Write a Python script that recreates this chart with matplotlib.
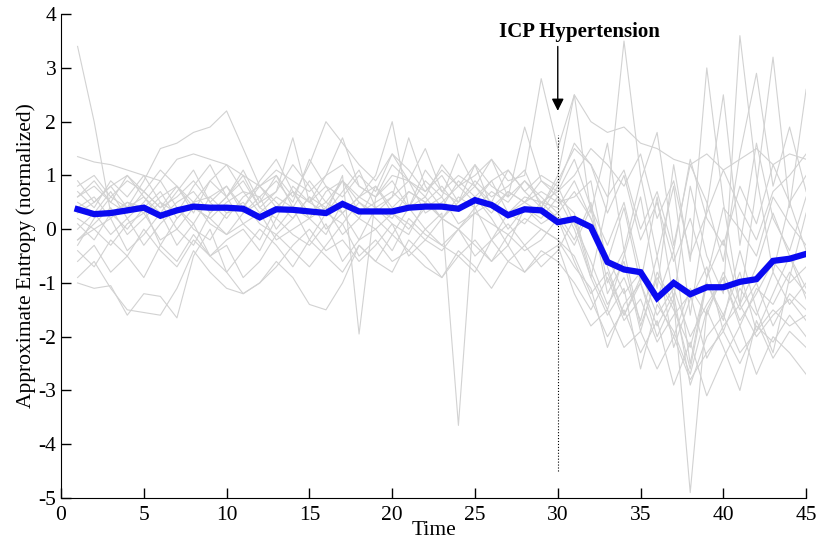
import matplotlib
matplotlib.use("Agg")
import matplotlib.pyplot as plt
import numpy as np

plt.rcParams['font.family'] = ['Liberation Serif', 'DejaVu Serif']
plt.rcParams['axes.unicode_minus'] = False

time = list(range(1, 46))

mean_entropy = [0.37, 0.28, 0.30, 0.35, 0.40, 0.25, 0.35, 0.42, 0.40, 0.40,
                0.38, 0.22, 0.37, 0.36, 0.33, 0.30, 0.47, 0.33, 0.33, 0.33,
                0.40, 0.42, 0.42, 0.38, 0.54, 0.45, 0.26, 0.37, 0.35, 0.13,
                0.19, 0.04, -0.61, -0.75, -0.80, -1.28, -1.00, -1.21, -1.08, -1.08,
                -0.98, -0.93, -0.59, -0.55, -0.46]

traces = [
    [3.4, 2.0, 0.3, 0.5, 0.4, 0.7, 0.2, 0.5, 0.6, 0.3, 0.4, 0.8, 0.5, 0.2, 0.6, 0.4, 0.9, 0.3, 0.5, 0.7, 0.4, 0.6, 0.2, 0.5, 0.8, 0.4, 0.3, 0.6, 0.5, 0.4, 0.9, 0.2, -0.5, -1.2, -0.8, -1.6, -1.1, -2.0, -1.4, -0.9, -1.7, -1.2, -0.6, -1.0, -0.7],
    [0.1, -0.2, 0.3, 0.0, 0.4, -0.3, 0.2, 0.5, 0.1, -0.1, 0.3, 0.6, 0.0, 0.4, -0.2, 0.3, 0.1, 0.5, 0.2, -0.1, 0.4, 0.0, 0.3, -3.65, 0.6, 0.2, -0.3, 0.4, 0.1, 0.3, -0.2, 0.5, -1.0, -0.4, -1.8, -0.9, -1.5, -2.2, -1.0, -1.6, -0.8, -1.9, -1.2, -0.5, -1.3],
    [0.6, 0.9, 0.5, 1.0, 0.7, 0.4, 0.8, 0.3, 0.9, 0.6, 1.1, 0.5, 0.7, 1.2, 0.8, 0.3, 1.0, -1.95, 0.6, 0.9, 0.4, 1.1, 0.7, 0.5, 1.2, 0.8, 0.6, 0.9, 0.5, 0.7, 1.3, 0.4, -0.3, 0.5, -0.8, -1.3, -0.4, -2.5, -0.9, -0.2, -1.4, -0.7, 0.3, -0.5, -1.1],
    [-0.3, 0.2, 0.6, 0.4, 0.9, 1.5, 1.6, 1.8, 1.9, 2.2, 1.5, 0.8, 1.0, 0.6, 1.2, 2.0, 1.6, 1.2, 0.9, 1.4, 1.1, 0.7, 1.0, 0.5, 0.9, 0.6, 0.8, 1.1, 0.4, 0.9, 1.5, 1.2, 0.3, 1.0, -0.2, 0.5, -0.6, 0.2, -0.9, 0.4, 0.0, -0.5, 0.6, 0.1, -0.3],
    [1.35, 1.25, 1.2, 1.1, 1.0, 0.9, 1.3, 1.4, 1.3, 1.2, 1.0, 0.8, 1.1, 0.9, 0.7, 1.0, 1.2, 0.8, 0.6, 1.0, 0.9, 0.7, 1.1, 0.8, 1.0, 1.3, 0.9, 1.0, 2.8, 1.5, 2.5, 2.0, 1.8, 1.9, 1.6, 1.5, 1.3, 1.2, 1.4, 1.1, 1.3, 1.5, 1.2, 1.4, 1.3],
    [-1.0, -1.1, -1.05, -1.6, -1.2, -1.25, -1.65, -0.5, 0.0, -0.8, -1.2, -1.0, -0.6, -0.9, -1.4, -1.5, -1.0, -0.3, -0.6, -0.8, -0.2, -0.5, -0.9, -0.4, -0.7, -1.1, -0.6, -0.8, -0.5, -0.3, -1.2, -1.8, -1.5, -2.2, -1.9, -2.6, -2.0, -2.8, -2.3, -1.9, -2.5, -1.8, -2.1, -1.6, -2.0],
    [-0.9, -0.6, -1.1, -1.5, -1.55, -1.6, -1.1, -0.4, -0.8, -1.1, -1.2, -1.0, -0.7, -0.3, 0.0, -0.4, -0.2, -0.6, -0.3, 0.1, -0.5, -0.2, -0.4, 0.0, -0.3, -0.6, -0.1, -0.4, -0.2, 0.2, -0.6, -1.3, -2.0, -1.5, -2.3, -1.7, -2.9, -2.1, -3.1, -2.4, -1.8, -2.7, -2.0, -2.3, -2.7],
    [0.5, 0.3, 0.7, 0.2, 0.5, 0.9, 0.4, 0.1, 0.6, 0.8, 0.3, 0.5, 1.0, 0.4, 0.2, 0.7, 0.9, 0.5, 0.3, 0.6, 1.7, 0.8, 0.4, 0.9, 0.6, 0.3, 0.7, 0.5, 0.9, 0.6, 0.0, -0.9, 0.5, 3.5, 1.0, -0.5, 0.8, -1.6, 0.4, 2.5, -0.3, 1.6, 0.2, -0.4, 0.6],
    [0.2, 0.0, -0.3, 0.1, 0.3, -0.2, 0.0, 0.4, 0.2, -0.1, 0.1, 0.3, -0.2, 0.0, 0.2, 0.4, -0.1, 0.2, 0.0, 0.3, 0.1, -0.2, 0.2, 0.0, 0.3, 0.1, -0.1, 0.2, 0.0, -0.2, -0.5, -1.2, -0.8, -1.6, -1.0, -2.0, -1.3, -4.9, -1.5, -0.9, -1.8, -1.1, -1.4, -0.8, -1.2],
    [0.4, 0.6, 0.2, 0.5, 0.3, 0.6, 0.8, 0.4, 0.2, 0.5, 0.7, 0.3, 0.6, 0.4, 0.9, 0.5, 0.3, 0.6, 0.8, 0.4, 0.7, 0.5, 0.2, 0.6, 0.4, 0.7, 0.5, 0.9, 0.6, 0.3, 0.7, 0.2, -0.6, 0.4, -1.0, 0.6, -1.3, 0.8, -0.5, -1.2, 3.6, 1.0, -0.8, 0.5, -0.4],
    [-0.2, 0.1, 0.4, -0.1, 0.2, 0.5, 0.0, -0.3, 0.3, 0.6, 0.1, -0.2, 0.4, 0.7, 0.2, -0.1, 0.5, 0.2, 0.8, 0.3, 0.0, 0.4, 0.6, 0.1, 0.3, 0.5, 0.0, 0.4, 0.2, 0.6, 0.3, -0.8, -1.5, -0.5, 0.6, -1.1, 1.2, -0.6, 3.0, 0.5, -1.4, 0.8, 3.2, 0.4, 2.6],
    [0.9, 0.5, 0.8, 1.0, 0.6, 0.3, 0.7, 1.1, 0.5, 0.8, 0.4, 0.9, 1.3, 0.7, 0.5, 1.0, 1.7, 0.8, 0.6, 1.2, 0.9, 1.5, 0.7, 1.0, 0.8, 1.3, 0.6, 1.9, 0.9, 0.7, 1.0, 1.5, 1.2, 0.8, 1.4, 0.2, 0.9, -0.5, 0.3, 1.1, 0.4, -0.2, 0.7, 1.0, 1.4],
    [-0.4, -0.7, -0.2, -0.5, -0.9, -0.3, -0.6, -0.1, -0.5, -0.8, -0.4, 0.0, -0.3, -0.7, -0.2, -0.5, -0.8, -0.3, -0.6, -0.1, -0.4, -0.7, -0.9, -0.5, -0.2, -0.6, -0.3, -0.8, -0.4, -0.6, -1.0, -1.5, -0.9, -1.7, -1.3, -2.1, -1.6, -1.2, -2.4, -1.8, -1.4, -2.0, -1.6, -1.3, -1.7],
    [0.7, 0.4, 0.9, 0.6, 1.0, 0.5, 0.3, 0.8, 1.2, 0.6, 0.9, 0.4, 0.7, 1.7, 0.5, 0.8, 0.3, 0.6, 1.0, 2.0, 0.4, 0.9, 0.6, 1.4, 0.8, 0.5, 1.1, 0.7, 0.4, 1.0, 2.5, 0.3, 1.6, -0.4, 0.9, 1.8, -0.3, 1.2, 0.5, -0.6, 1.4, 2.9, 0.8, 1.9, 0.7],
    [0.0, 0.3, -0.1, 0.2, -0.3, 0.1, 0.4, 0.0, -0.2, 0.3, 0.5, 0.1, -0.1, 0.2, 0.6, 0.0, 0.3, -0.2, 0.4, 0.1, -0.1, 0.5, 0.2, 0.0, 0.4, -0.2, 0.3, 0.1, 0.5, 0.2, -0.3, 0.4, -1.2, -0.6, -1.9, -0.8, -1.4, -2.6, -1.0, -1.7, -0.4, -1.5, -2.3, -0.9, 0.3],
    [0.6, 0.8, 0.5, 0.3, 0.7, 0.4, 0.6, 0.9, 0.5, 0.2, 0.6, 0.8, 0.4, 0.7, 0.3, 0.5, 0.9, 0.6, 0.4, 0.2, 0.7, 0.5, 0.8, 0.4, 0.6, 0.9, 0.3, 0.5, 0.7, 0.5, 0.6, 0.9, -0.7, -1.6, -0.9, -1.3, -2.0, -1.1, -1.6, -0.8, -1.5, -1.0, -1.8, -1.2, -1.5],
    [-0.6, -0.3, -0.8, -0.5, 0.0, -0.4, -0.7, -0.2, -0.5, -0.3, -0.9, -0.6, -0.1, -0.4, -0.7, -0.3, 0.1, -0.5, -0.2, -0.6, -0.4, 0.0, -0.3, -0.5, -0.8, -0.2, -0.6, -0.3, -0.7, -0.4, 0.2, -0.9, -1.6, -1.1, -2.6, -1.4, -1.9, -2.7, -1.5, -2.2, -3.0, -1.7, -2.4, -1.9, -2.2],
    [0.3, 0.5, 0.8, 0.4, 0.6, 0.2, 0.5, 0.7, 0.3, 0.6, 1.0, 0.4, 0.2, 0.8, 0.5, 0.3, 0.7, 1.1, 0.4, 0.6, 0.9, 0.3, 0.5, 0.8, 1.2, 0.4, 0.7, 0.5, 0.3, 0.8, 0.1, -0.6, -1.4, -0.9, -1.7, -0.5, -2.2, -1.3, -0.7, -1.9, -1.1, -1.6, -0.8, -1.4, -1.0],
    [0.8, 1.0, 0.6, 0.9, 0.7, 1.1, 0.8, 0.5, 0.9, 1.2, 0.7, 0.6, 0.9, 0.5, 1.3, 0.8, 0.6, 1.0, 0.7, 1.4, 0.9, 0.6, 1.2, 0.8, 0.5, 0.9, 1.1, 0.7, 1.0, 0.8, 1.6, 1.2, 0.6, 1.1, 0.0, 0.7, -0.4, 1.3, 0.2, -0.3, 0.8, 0.1, 1.2, 0.5, 1.0],
    [-0.2, 0.0, 0.2, -0.4, -0.1, 0.3, -0.3, 0.1, -0.5, -0.2, 0.0, -0.4, 0.2, -0.1, -0.3, 0.1, -0.6, -0.2, 0.0, -0.4, 0.2, -0.1, -0.3, 0.0, -0.5, -0.2, 0.1, -0.3, 0.0, -0.2, -0.7, -1.1, -2.2, -1.4, -1.0, -1.8, -1.2, -2.9, -2.0, -1.6, -2.3, -1.9, -1.5, -1.8, -1.6],
]

event_time = 30
xticks = list(range(0, 46, 5))
yticks = list(range(-5, 5))

fig = plt.figure(figsize=(8.17, 5.44), dpi=100)
ax = fig.add_axes([0.0747, 0.0846, 0.912, 0.8894])

for tr in traces:
    ax.plot(time, tr, color='#d2d2d2', lw=0.8, zorder=1)

ax.plot([event_time, event_time], [-4.5, 1.75], linestyle=':', color='black', lw=0.8, zorder=2)
ax.plot(time, mean_entropy, color='#0a0af0', lw=4.5, zorder=3, solid_joinstyle='miter')

ax.annotate('', xy=(event_time, 2.15), xytext=(event_time, 3.45),
            arrowprops=dict(arrowstyle='-|>', color='black', lw=1, mutation_scale=18))
ax.text(31.3, 3.66, 'ICP Hypertension', ha='center', va='center',
        fontsize=15, fontweight='bold')

ax.set_xlim(0, 45)
ax.set_ylim(-5, 4)
ax.set_xticks(xticks)
ax.set_yticks(yticks)
ax.tick_params(direction='in', length=7, width=1, labelsize=15.5)
ax.tick_params(axis='x', pad=6)
for s in ['top', 'right']:
    ax.spines[s].set_visible(False)
ax.set_xlabel('Time', fontsize=15.5, labelpad=-3)
ax.set_ylabel('Approximate Entropy (normalized)', fontsize=15.5, labelpad=2)

fig.savefig('out.png', dpi=100)
